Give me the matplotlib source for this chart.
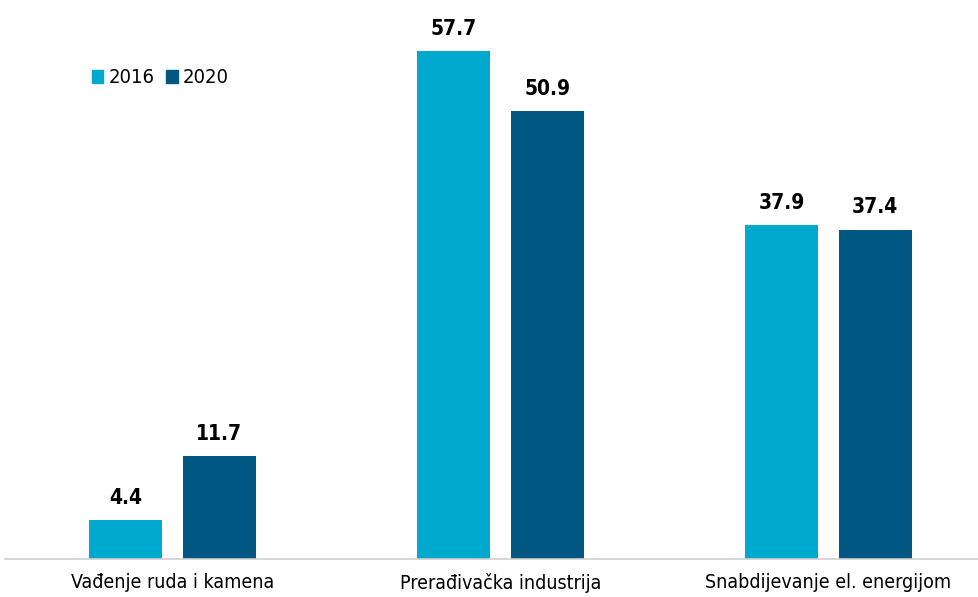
import numpy as np
import matplotlib
matplotlib.use("Agg")
from matplotlib import pyplot as plt
from matplotlib.patches import Patch

categories = ["Vađenje ruda i kamena", "Prerađivačka industrija", "Snabdijevanje el. energijom"]
values_2016 = [4.4, 57.7, 37.9]
values_2020 = [11.7, 50.9, 37.4]
series_names = ["2016", "2020"]
colors = ["#00A9CE", "#005782"]

plt.rcParams['font.family'] = ['DejaVu Sans']
plt.rcParams['font.stretch'] = 'condensed'

fig = plt.figure(figsize=(9.79, 5.97), dpi=100)
ax = fig.add_axes([5 / 979, 38 / 597, 974 / 979, 559 / 597])

x = np.arange(len(categories))
width = 0.223
offset = 0.143

bars1 = ax.bar(x - offset, values_2016, width, color=colors[0])
bars2 = ax.bar(x + offset, values_2020, width, color=colors[1])

for bars in (bars1, bars2):
    for b in bars:
        ax.text(b.get_x() + b.get_width() / 2, b.get_height() + 1.4, f"{b.get_height():.1f}",
                ha='center', va='bottom', fontsize=15, fontweight='bold', color='black')

ax.set_xlim(-0.511, 2.459)
ax.set_ylim(0, 63.5)
ax.set_xticks(x)
ax.set_xticklabels(categories, fontsize=14)
ax.tick_params(axis='x', length=0, pad=10)
ax.set_yticks([])
for s in ['top', 'right', 'left']:
    ax.spines[s].set_visible(False)
ax.spines['bottom'].set_color('#d0d0d0')
ax.spines['bottom'].set_linewidth(1.2)

handles = [Patch(color=c) for c in colors]
ax.legend(handles, series_names, loc='upper left', bbox_to_anchor=(0.071, 0.91), ncol=2,
          frameon=False, fontsize=14.5, handlelength=0.55, handleheight=0.6,
          handletextpad=0.25, columnspacing=0.6)

fig.savefig("out.png", dpi=100)
